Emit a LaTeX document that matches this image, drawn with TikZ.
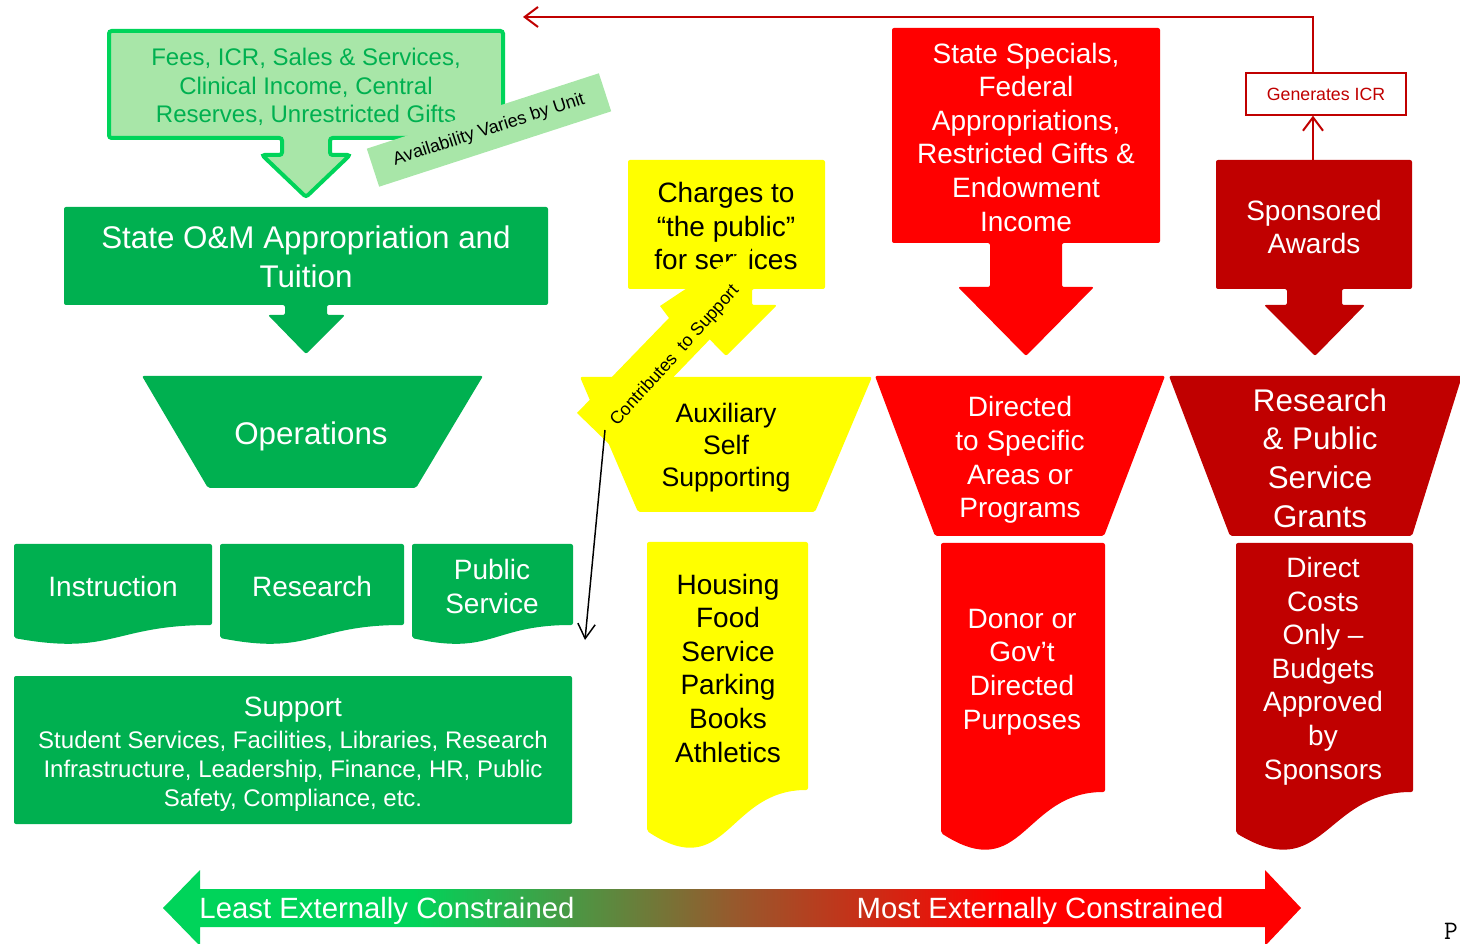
\documentclass[tikz,border=0pt]{standalone}
\usepackage{fontspec}
\setmainfont{Liberation Sans}
\usepackage{xcolor}
\usepackage{tikz}
\usetikzlibrary{positioning,arrows.meta}

\definecolor{fundgreen}{RGB}{0,176,80}
\definecolor{palegreen}{RGB}{168,230,168}
\definecolor{brightgreen}{RGB}{0,212,90}
\definecolor{fundred}{RGB}{255,0,0}
\definecolor{darkred}{RGB}{192,0,0}
\definecolor{fundyellow}{RGB}{255,255,0}
\definecolor{midbrown}{RGB}{150,90,45}

\pgfdeclarehorizontalshading{constraint}{100bp}{color(0bp)=(brightgreen);
  color(36bp)=(brightgreen); color(50bp)=(midbrown); color(62bp)=(fundred);
  color(100bp)=(fundred)}

\newcommand{\fsz}[2]{\fontsize{#1}{#2}\selectfont}

\begin{document}
\begin{tikzpicture}[x=0.75pt, y=-0.75pt,
  txt/.style={align=center, inner sep=0pt},
  wtxt/.style={txt, text=white},
  btxt/.style={txt, text=black},
  big/.style={font={\fsz{23.5}{29}}},
  mid/.style={font={\fsz{21}{25.2}}},
  shp/.style={rounded corners=1.5pt},
  barb/.style={-{Straight Barb[length=10pt,width=15pt]}}]
\useasboundingbox (0,0) rectangle (1460,944);

% green column
\draw[brightgreen, line width=3pt, fill=palegreen, rounded corners=2pt]
  (109,31) -- (503,31) -- (503,138) -- (330,138) -- (330,155) -- (350,155)
  -- (306,197) -- (262,155) -- (282,155) -- (282,138) -- (109,138) -- cycle;
\node[txt, text=fundgreen, font={\fsz{18}{21.5}}] (fees) at (306,87)
  {Fees, ICR, Sales \& Services,\\Clinical Income, Central\\Reserves, Unrestricted Gifts};
\node[fill=palegreen, rotate=18, minimum width=183pt, minimum height=30pt,
  inner sep=0pt, font={\fsz{13.5}{16}}] (avail) at (489,130) {Availability Varies by Unit};

\fill[fundgreen, shp] (64,207) -- (548,207) -- (548,305) -- (327,305) -- (327,315)
  -- (345,315) -- (306,354) -- (268,315) -- (285,315) -- (285,305) -- (64,305) -- cycle;
\node[wtxt, big] (om) at (306,257) {State O\&M Appropriation and\\Tuition};

\fill[fundgreen, shp] (142,376) -- (483,376) -- (416,488) -- (208,488) -- cycle;
\node[wtxt, big] (ops) at (311,436) {Operations};

\fill[fundgreen, shp] (14,544) -- (212,544) -- (212,625)
  .. controls (113,625) and (113,656) .. (14,638) -- cycle;
\fill[fundgreen, shp] (220,544) -- (404,544) -- (404,625)
  .. controls (312,625) and (312,656) .. (220,638) -- cycle;
\fill[fundgreen, shp] (412,544) -- (573,544) -- (573,625)
  .. controls (492,625) and (492,656) .. (412,638) -- cycle;
\node[wtxt, font={\fsz{21}{25.5}}] (instr) at (113,586) {Instruction};
\node[wtxt, font={\fsz{21}{25.5}}] (resrch) at (312,586) {Research};
\node[wtxt, font={\fsz{21}{25.5}}] (pubsvc) at (492,586) {Public\\Service};

\fill[fundgreen, shp] (14,676) rectangle (572,824);
\node[wtxt, font={\fsz{21}{25}}] (support) at (293,710) {Support};
\node[wtxt, font={\fsz{18}{21.75}}] (supportlist) at (293,771)
  {Student Services, Facilities, Libraries, Research\\Infrastructure, Leadership, Finance, HR, Public\\Safety, Compliance, etc.};

% yellow column
\fill[fundyellow, shp] (628,160) -- (825,160) -- (825,289) -- (752,289) -- (752,305)
  -- (777,305) -- (726,356) -- (676,305) -- (700,305) -- (700,289) -- (628,289) -- cycle;
\node[btxt, mid] (charges) at (726,226) {Charges to\\“the public”\\for services};
\fill[fundyellow] (577,413) -- (669,318) -- (660,306) -- (752,245) -- (730,330)
  -- (713,336) -- (609,444) -- cycle;
\fill[fundyellow, shp] (580,377) -- (872,377) -- (815,512) -- (638,512) -- cycle;
\node[btxt, font={\fsz{20}{24}}] (aux) at (726,448) {Auxiliary\\Self\\Supporting};
\node[btxt, rotate=48, font={\fsz{13.3}{15}}] (contrib) at (675,356) {Contributes\ \ to Support};

\fill[fundyellow, shp] (647,542) -- (808,542) -- (808,790)
  .. controls (727,790) and (727,884) .. (647,831) -- cycle;
\node[btxt, font={\fsz{21}{25.2}}] (housing) at (728,668)
  {Housing\\Food\\Service\\Parking\\Books\\Athletics};

% red column
\fill[fundred, shp] (892,28) -- (1160,28) -- (1160,243) -- (1062,243) -- (1062,287)
  -- (1094,287) -- (1026,356) -- (958,287) -- (990,287) -- (990,243) -- (892,243) -- cycle;
\node[wtxt, mid] (specials) at (1026,137)
  {State Specials,\\Federal\\Appropriations,\\Restricted Gifts \&\\Endowment\\Income};
\fill[fundred, shp] (875,376) -- (1165,376) -- (1104,536) -- (935,536) -- cycle;
\node[wtxt, mid] (directed) at (1020,460) {Directed\\to Specific\\Areas or\\Programs};
\fill[fundred, shp] (941,543) -- (1105,543) -- (1105,792)
  .. controls (1023,792) and (1023,886) .. (941,833) -- cycle;
\node[wtxt, mid] (donor) at (1022,672) {Donor or\\Gov’t\\Directed\\Purposes};

% dark red column
\fill[darkred, shp] (1216,160) -- (1412,160) -- (1412,289) -- (1342,289) -- (1342,305)
  -- (1365,305) -- (1315,356) -- (1264,305) -- (1287,305) -- (1287,289) -- (1216,289) -- cycle;
\node[wtxt, mid] (awards) at (1314,227) {Sponsored\\Awards};
\fill[darkred, shp] (1169,376) -- (1462,376) -- (1412,536) -- (1230,536) -- cycle;
\node[wtxt, big] (grants) at (1320,458) {Research\\\& Public\\Service\\Grants};
\fill[darkred, shp] (1236,543) -- (1413,543) -- (1413,792)
  .. controls (1324,792) and (1324,886) .. (1236,833) -- cycle;
\node[wtxt, mid] (direct) at (1323,671)
  {Direct\\Costs\\Only –\\Budgets\\Approved\\by\\Sponsors};

% ICR loop
\node[draw=darkred, line width=1.1pt, fill=white, text=darkred, minimum width=120pt,
  minimum height=31.5pt, font={\fsz{13.3}{16}}] (icr) at (1326,94) {Generates ICR};
\coordinate (awardstop) at (1313,160);
\coordinate (feesend) at (523,17);
\draw[darkred, line width=1.5pt, barb] (awardstop) -- (awardstop |- icr.south);
\draw[darkred, line width=1.5pt, barb] (awardstop |- icr.north) |- (feesend);

% auxiliary to public service
\coordinate (auxleft) at (605,430);
\coordinate (pubsvcend) at (585,640);
\draw[black, line width=1.1pt, -{Straight Barb[length=11pt,width=13pt]}] (auxleft) -- (pubsvcend);

% constraint scale
\shade[shading=constraint] (163,908) -- (200,870) -- (200,889)
  -- (1265,889) -- (1265,870) -- (1301,908) -- (1265,946) -- (1265,927) -- (200,927)
  -- (200,946) -- cycle;
\node[wtxt, font={\fsz{22}{26}}] (least) at (387,911) {Least Externally Constrained};
\node[wtxt, font={\fsz{22}{26}}] (most) at (1040,911) {Most Externally Constrained};

\node[font={\ttfamily\fsz{20}{22}}, anchor=base, inner sep=0pt] (pmark) at (1451,939) {P};
\end{tikzpicture}
\end{document}
